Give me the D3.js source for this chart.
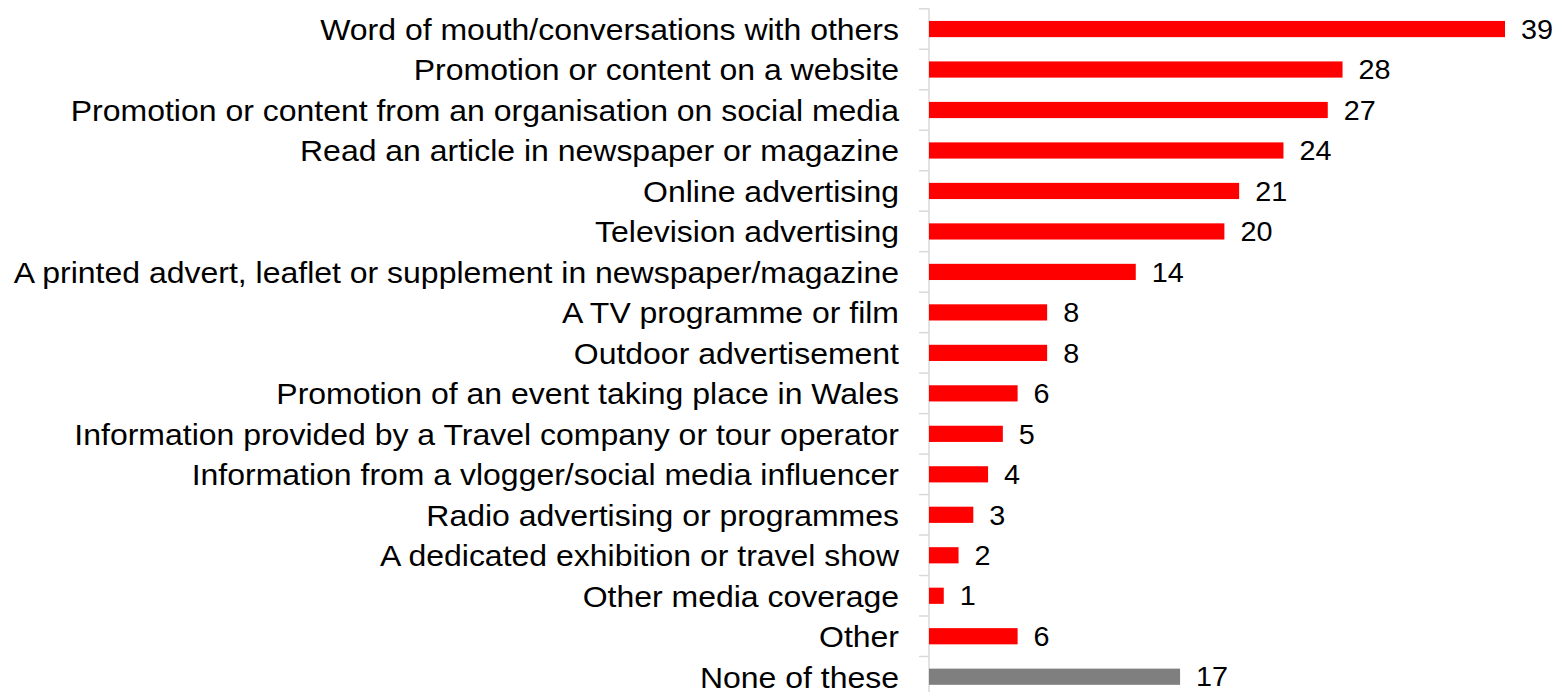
<!DOCTYPE html>
<html>
<head>
<meta charset="utf-8">
<script src="https://cdnjs.cloudflare.com/ajax/libs/d3/7.8.5/d3.min.js"></script>
<style>
  html, body { margin: 0; padding: 0; background: #ffffff; }
  svg { display: block; }
  text { font-family: "Liberation Sans", Arial, sans-serif; fill: #000; }
</style>
</head>
<body>
<div id="chart"></div>
<script>
// Sources of inspiration / information (%)
const categories = [
  "Word of mouth/conversations with others",
  "Promotion or content on a website",
  "Promotion or content from an organisation on social media",
  "Read an article in newspaper or magazine",
  "Online advertising",
  "Television advertising",
  "A printed advert, leaflet or supplement in newspaper/magazine",
  "A TV programme or film",
  "Outdoor advertisement",
  "Promotion of an event taking place in Wales",
  "Information provided by a Travel company or tour operator",
  "Information from a vlogger/social media influencer",
  "Radio advertising or programmes",
  "A dedicated exhibition or travel show",
  "Other media coverage",
  "Other",
  "None of these"
];
const values = [39, 28, 27, 24, 21, 20, 14, 8, 8, 6, 5, 4, 3, 2, 1, 6, 17];
const highlight = ["None of these"];

const width = 1557, height = 692;
const axisX = 929;
const plotTop = 8.8, step = 40.48;
// text is set slightly wide
const stretch = 1.066;

const svg = d3.select("#chart").append("svg")
  .attr("width", width).attr("height", height);

const y = d3.scaleBand()
  .domain(categories)
  .range([plotTop, plotTop + step * categories.length])
  .paddingInner(0.6)
  .paddingOuter(0.3);

const x = d3.scaleLinear()
  .domain([0, 39])
  .range([axisX, axisX + 576]);

// category axis with outward ticks between bands
const bandEdges = d3.range(categories.length + 1).map(i => plotTop + i * step);
svg.append("line")
  .attr("x1", axisX).attr("x2", axisX)
  .attr("y1", plotTop).attr("y2", plotTop + step * categories.length)
  .attr("stroke", "#d9d9d9").attr("stroke-width", 1.5);
svg.selectAll("line.tick").data(bandEdges).join("line")
  .attr("class", "tick")
  .attr("x1", axisX - 10).attr("x2", axisX)
  .attr("y1", d => d).attr("y2", d => d)
  .attr("stroke", "#d9d9d9").attr("stroke-width", 1.5);

// bars
svg.selectAll("rect.bar").data(categories).join("rect")
  .attr("class", "bar")
  .attr("x", x(0))
  .attr("y", d => y(d))
  .attr("width", (d, i) => x(values[i]) - x(0))
  .attr("height", y.bandwidth())
  .attr("fill", d => highlight.includes(d) ? "#7f7f7f" : "#ff0000");

// category labels
svg.selectAll("text.cat").data(categories).join("text")
  .attr("class", "cat")
  .attr("transform", d => `translate(${axisX - 30},${y(d) + y.bandwidth() / 2}) scale(${stretch},1)`)
  .attr("dy", "0.36em")
  .attr("text-anchor", "end")
  .attr("font-size", 30)
  .text(d => d);

// value labels
svg.selectAll("text.val").data(categories).join("text")
  .attr("class", "val")
  .attr("transform", (d, i) => `translate(${x(values[i]) + 16},${y(d) + y.bandwidth() / 2}) scale(${stretch},1)`)
  .attr("dy", "0.36em")
  .attr("font-size", 27)
  .text((d, i) => values[i]);
</script>
</body>
</html>
